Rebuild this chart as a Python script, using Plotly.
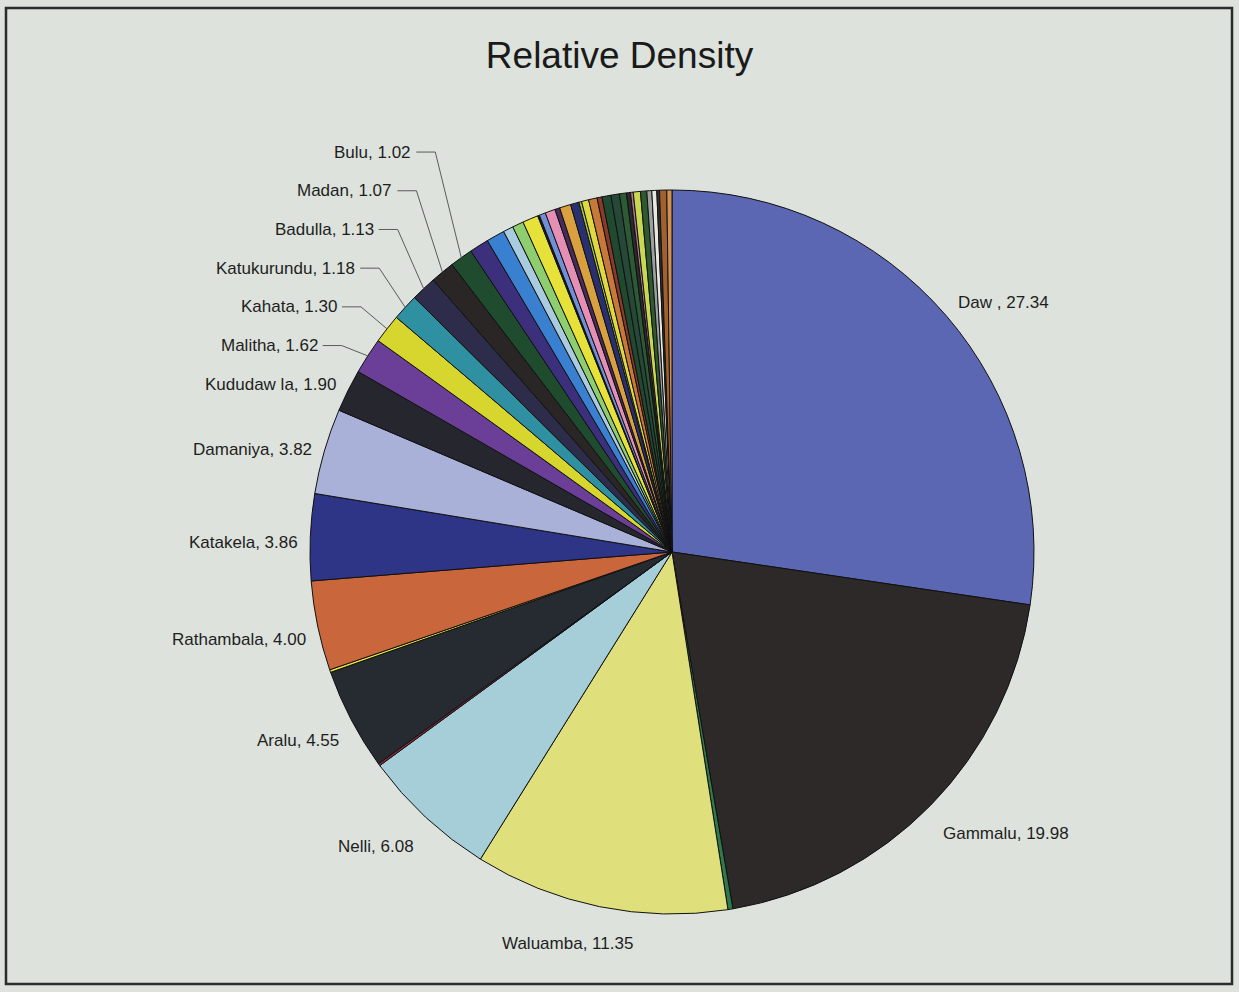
import math
import plotly.graph_objects as go

# Relative density (%) of tree species, listed clockwise from 12 o'clock
species = ["Daw ", "Gammalu", "Sp. 18", "Waluamba", "Nelli", "Sp. 19", "Aralu", "Sp. 20",
           "Rathambala", "Katakela", "Damaniya", "Kududaw la", "Malitha", "Kahata",
           "Katukurundu", "Badulla", "Madan", "Bulu",
           "Sp. 21", "Sp. 22", "Sp. 23", "Sp. 24", "Sp. 25", "Sp. 26", "Sp. 27", "Sp. 28",
           "Sp. 29", "Sp. 30", "Sp. 31", "Sp. 32", "Sp. 33", "Sp. 34", "Sp. 35", "Sp. 36",
           "Sp. 37", "Sp. 38", "Sp. 39", "Sp. 40", "Sp. 41", "Sp. 42", "Sp. 43", "Sp. 44",
           "Sp. 45", "Sp. 46", "Sp. 47"]
density = [27.34, 19.98, 0.22, 11.35, 6.08, 0.10, 4.55, 0.12,
           4.00, 3.86, 3.82, 1.90, 1.62, 1.30,
           1.18, 1.13, 1.07, 1.02,
           0.86, 0.82, 0.45, 0.50, 0.70, 0.08, 0.28, 0.45,
           0.22, 0.50, 0.38, 0.12, 0.32, 0.38, 0.22, 0.40,
           0.38, 0.31, 0.18, 0.12, 0.32, 0.28, 0.22, 0.22,
           0.12, 0.32, 0.23]
slice_colors = ["#5b67b2", "#2d2929", "#2f7a4a", "#dfe07c", "#a5ced8", "#8a2a3a", "#252b31", "#e6e040",
                "#c9663b", "#2e3486", "#a9b1d9", "#26262f", "#6b3e97", "#d6d62e",
                "#2f90a2", "#2d2c4a", "#2a2626", "#1f4b2f",
                "#3c307c", "#3a80d0", "#a9cbe0", "#8fce6e", "#e6e23a", "#1a1a1a", "#6f8fd8", "#e58fb5",
                "#4a2a5a", "#d9a040", "#2a2f70", "#a8c840", "#e0d840", "#c87838", "#8a3a2a", "#1f4a30",
                "#254838", "#2b5a35", "#2a2a2a", "#b07890", "#c8d850", "#2f5a2f", "#9aa0a0", "#e8e8e0",
                "#303030", "#a06030", "#d09050"]

W, H = 1239, 992
CX, CY, R = 672, 552, 362
BG = "#dde2dc"
FONT = "Arial, Liberation Sans, sans-serif"


def px(x):
    return x / W


def py(y):
    return 1 - y / H


fig = go.Figure(go.Pie(
    labels=species,
    values=density,
    sort=False,
    direction="clockwise",
    rotation=0,
    textinfo="none",
    hoverinfo="label+value",
    marker=dict(colors=slice_colors, line=dict(color="#111111", width=1)),
    domain=dict(x=[px(CX - R), px(CX + R)], y=[py(CY + R), py(CY - R)]),
    showlegend=False,
))

# Outside labels for species with relative density >= 1
total = sum(density)
annotations = []
shapes = []
cum = 0.0
pitch = 38.7
prev_left_y = None
for name, val in zip(species, density):
    mid = (cum + val / 2) / total
    cum += val
    if val < 1:
        continue
    th = 2 * math.pi * mid
    dx, dy = math.sin(th), -math.cos(th)
    rx, ry = CX + R * dx, CY + R * dy
    ty = ry + 30 * dy + 7
    text = f"{name}, {val:.2f}"
    pushed = False
    if dx < 0 and prev_left_y is not None and ty > prev_left_y - pitch:
        ty = prev_left_y - pitch
        pushed = True
    if dx < 0:
        prev_left_y = ty
    if pushed:
        tx = rx - 48
        xa = "right"
        joint = tx + 22
        shapes.append(dict(type="path", xref="paper", yref="paper",
                           path=f"M {px(tx + 3)} {py(ty)} L {px(joint)} {py(ty)} L {px(rx)} {py(ry)}",
                           line=dict(color="#5a5a5a", width=1)))
    elif abs(dx) < 0.3:
        tx, xa = rx + 160 * dx, "center"
    elif dx > 0:
        tx, xa = rx + 10, "left"
    else:
        tx, xa = rx - 10, "right"
    annotations.append(dict(x=px(tx), y=py(ty), xref="paper", yref="paper", text=text,
                            showarrow=False, xanchor=xa, yanchor="middle",
                            font=dict(family=FONT, size=17, color="#1e1e1e")))

# Chart frame
shapes.append(dict(type="rect", xref="paper", yref="paper",
                   x0=px(6), x1=px(1232), y0=py(984), y1=py(8),
                   line=dict(color="#2b2b2b", width=2.5), fillcolor="rgba(0,0,0,0)"))

fig.update_layout(
    width=W, height=H,
    margin=dict(l=0, r=0, t=0, b=0),
    paper_bgcolor=BG, plot_bgcolor=BG,
    title=dict(text="Relative Density", x=0.5, xanchor="center", xref="paper",
               y=1 - 55 / H, yref="container", yanchor="middle",
               font=dict(family=FONT, size=37, color="#1a1a1a")),
    annotations=annotations,
    shapes=shapes,
)

fig.write_html("out.html")
